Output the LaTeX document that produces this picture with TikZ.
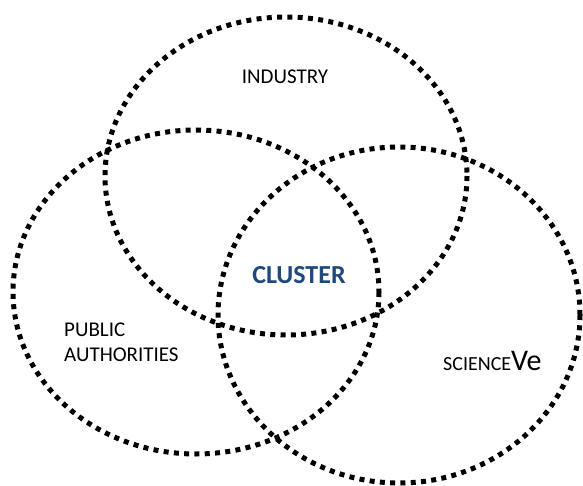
\documentclass[tikz,border=0pt]{standalone}
\usepackage{fontspec}
\setmainfont{Carlito}
\definecolor{clusterblue}{RGB}{31,73,125}
\begin{document}
\begin{tikzpicture}[x=1pt,y=-1pt,
  dotline/.style={draw=black,line width=5pt,dash pattern=on 5pt off 5.3pt,line cap=butt},
  lbl/.style={inner sep=0pt,font=\fontsize{21}{25}\selectfont}]
\useasboundingbox (0,0) rectangle (583,486);
\draw[dotline] (286,176) ellipse [x radius=181, y radius=159];
\draw[dotline] (196,292) ellipse [x radius=183, y radius=162];
\draw[dotline] (399,315) ellipse [x radius=181, y radius=168];
\node[lbl] (ind) at (285,77) {INDUSTRY};
\node[lbl,font=\fontsize{26}{30}\selectfont\bfseries,text=clusterblue] (clu) at (299,275) {CLUSTER};
\node[lbl,anchor=base west] (pub) at (64,336) {PUBLIC};
\node[lbl,anchor=base west] (aut) at (64,361) {AUTHORITIES};
\node[lbl,anchor=base west] (sci) at (443,370) {\fontsize{20}{24}\selectfont SCIENCE\fontsize{30}{34}\selectfont Ve};
\end{tikzpicture}
\end{document}
